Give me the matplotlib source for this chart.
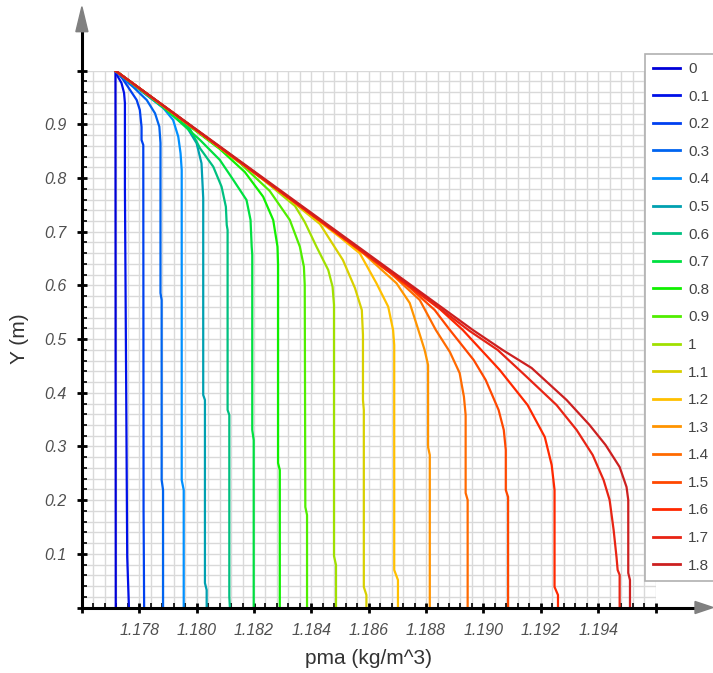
import matplotlib
matplotlib.use("Agg")
import matplotlib.pyplot as plt
from matplotlib.ticker import MultipleLocator, FixedLocator, FixedFormatter
from matplotlib.patches import Polygon

plt.rcParams['font.family'] = ['Liberation Sans', 'DejaVu Sans']

# ---------------- data ----------------
labels = ['0', '0.1', '0.2', '0.3', '0.4', '0.5', '0.6', '0.7', '0.8', '0.9',
          '1', '1.1', '1.2', '1.3', '1.4', '1.5', '1.6', '1.7', '1.8']
colors = ['#0000d8', '#0010e8', '#0040f0', '#0064f0', '#0090ff', '#00a0b0',
          '#00c080', '#00e040', '#10f000', '#50ee00', '#a0e000', '#d8d000',
          '#ffc000', '#ff9400', '#ff6a00', '#ff4800', '#ff2800', '#e82414',
          '#cc2020']

pma_0 = [1.17717, 1.17718]
y_0 = [1.0, 0.0]

pma_01 = [1.17717, 1.17722, 1.17738, 1.17747, 1.17750, 1.17750, 1.17754, 1.17758, 1.17764]
y_01 = [1.0, 0.9920, 0.9771, 0.9585, 0.9398, 0.7834, 0.4424, 0.0941, 0.0]

pma_02 = [1.17717, 1.17740, 1.17768, 1.17791, 1.17802, 1.17808, 1.17808, 1.17814, 1.17815, 1.17817]
y_02 = [1.0, 0.9864, 0.9640, 0.9454, 0.9268, 0.8951, 0.8709, 0.8616, 0.1816, 0.0]

pma_03 = [1.17717, 1.17750, 1.17779, 1.17826, 1.17855, 1.17870, 1.17874, 1.17874, 1.17878, 1.17878, 1.17883, 1.17883]
y_03 = [1.0, 0.9827, 0.9696, 0.9454, 0.9206, 0.8957, 0.8653, 0.5859, 0.5728, 0.2375, 0.2189, 0.0]

pma_04 = [1.17717, 1.17768, 1.17826, 1.17884, 1.17918, 1.17936, 1.17944, 1.17948, 1.17948, 1.17955, 1.17955]
y_04 = [1.0, 0.9789, 0.9547, 0.9305, 0.9082, 0.8771, 0.8461, 0.8150, 0.2375, 0.2189, 0.0]

pma_05 = [1.17717, 1.17802, 1.17895, 1.17965, 1.18000, 1.18017, 1.18023, 1.18023, 1.18029, 1.18029, 1.18035, 1.18035]
y_05 = [1.0, 0.9640, 0.9268, 0.8957, 0.8648, 0.8275, 0.7629, 0.3959, 0.3866, 0.0456, 0.0326, 0.0]

pma_06 = [1.17717, 1.17837, 1.17942, 1.17977, 1.18012, 1.18058, 1.18087, 1.18102, 1.18105, 1.18108, 1.18108, 1.18114, 1.18114, 1.18116]
y_06 = [1.0, 0.9510, 0.9063, 0.8914, 0.8554, 0.8212, 0.7839, 0.7466, 0.7126, 0.7033, 0.3679, 0.3586, 0.0196, 0.0]

pma_07 = [1.17717, 1.17872, 1.18012, 1.18081, 1.18128, 1.18174, 1.18188, 1.18192, 1.18194, 1.18194, 1.18199, 1.18199]
y_07 = [1.0, 0.9380, 0.8709, 0.8337, 0.7964, 0.7591, 0.7219, 0.6721, 0.6567, 0.3307, 0.3120, 0.0]

pma_08 = [1.17717, 1.17942, 1.18081, 1.18168, 1.18232, 1.18267, 1.18282, 1.18284, 1.18284, 1.18290, 1.18290]
y_08 = [1.0, 0.9100, 0.8541, 0.8113, 0.7653, 0.7219, 0.6721, 0.6380, 0.2692, 0.2561, 0.0]

pma_09 = [1.17717, 1.17977, 1.18151, 1.18255, 1.18325, 1.18360, 1.18374, 1.18377, 1.18379, 1.18385, 1.18385]
y_09 = [1.0, 0.8970, 0.8281, 0.7759, 0.7219, 0.6721, 0.6349, 0.6008, 0.1872, 0.1723, 0.0]

pma_10 = [1.17717, 1.18012, 1.18221, 1.18343, 1.18377, 1.18418, 1.18459, 1.18474, 1.18479, 1.18479, 1.18486, 1.18486]
y_10 = [1.0, 0.8839, 0.8020, 0.7480, 0.7181, 0.6721, 0.6287, 0.5976, 0.5635, 0.0959, 0.0792, 0.0]

pma_11 = [1.17717, 1.18081, 1.18290, 1.18430, 1.18510, 1.18552, 1.18576, 1.18580, 1.18580, 1.18583, 1.18583, 1.18592, 1.18592]
y_11 = [1.0, 0.8569, 0.7750, 0.7144, 0.6474, 0.5952, 0.5542, 0.5076, 0.3866, 0.3679, 0.0382, 0.0233, 0.0]

pma_12 = [1.17717, 1.18116, 1.18360, 1.18499, 1.18569, 1.18627, 1.18668, 1.18685, 1.18689, 1.18689, 1.18702, 1.18702]
y_12 = [1.0, 0.8430, 0.7470, 0.6902, 0.6598, 0.6040, 0.5604, 0.5170, 0.4890, 0.0699, 0.0512, 0.0]

pma_13 = [1.17717, 1.18151, 1.18430, 1.18586, 1.18697, 1.18743, 1.18771, 1.18795, 1.18807, 1.18807, 1.18813, 1.18813]
y_13 = [1.0, 0.8299, 0.7209, 0.6576, 0.6040, 0.5673, 0.5207, 0.4797, 0.4518, 0.2990, 0.2841, 0.0]

pma_14 = [1.17717, 1.18186, 1.18499, 1.18674, 1.18778, 1.18834, 1.18883, 1.18917, 1.18932, 1.18938, 1.18938, 1.18945, 1.18945]
y_14 = [1.0, 0.8160, 0.6930, 0.6241, 0.5728, 0.5170, 0.4760, 0.4369, 0.3927, 0.3586, 0.2133, 0.2003, 0.0]

pma_15 = [1.17717, 1.18221, 1.18569, 1.18743, 1.18830, 1.18883, 1.18966, 1.19008, 1.19053, 1.19071, 1.19078, 1.19078, 1.19086, 1.19086]
y_15 = [1.0, 0.8029, 0.6660, 0.5961, 0.5542, 0.5170, 0.4611, 0.4238, 0.3679, 0.3307, 0.2934, 0.2189, 0.2059, 0.0]

pma_16 = [1.17717, 1.18255, 1.18639, 1.18848, 1.18928, 1.19057, 1.19154, 1.19214, 1.19238, 1.19248, 1.19248, 1.19260, 1.19260]
y_16 = [1.0, 0.7889, 0.6390, 0.5561, 0.5170, 0.4424, 0.3772, 0.3176, 0.2655, 0.2189, 0.0382, 0.0233, 0.0]

pma_17 = [1.17717, 1.18360, 1.18778, 1.18952, 1.19050, 1.19144, 1.19255, 1.19325, 1.19381, 1.19419, 1.19440, 1.19454, 1.19464, 1.19468, 1.19475, 1.19475]
y_17 = [1.0, 0.7489, 0.5859, 0.5151, 0.4797, 0.4331, 0.3772, 0.3307, 0.2841, 0.2375, 0.2003, 0.1444, 0.0941, 0.0699, 0.0605, 0.0]

pma_18 = [1.17717, 1.18360, 1.18963, 1.19067, 1.19168, 1.19290, 1.19370, 1.19426, 1.19475, 1.19499, 1.19505, 1.19505, 1.19511, 1.19511]
y_18 = [1.0, 0.7507, 0.5170, 0.4797, 0.4462, 0.3866, 0.3400, 0.3027, 0.2617, 0.2245, 0.2003, 0.0643, 0.0512, 0.0]

pma_series = [pma_0, pma_01, pma_02, pma_03, pma_04, pma_05, pma_06, pma_07, pma_08,
              pma_09, pma_10, pma_11, pma_12, pma_13, pma_14, pma_15, pma_16, pma_17, pma_18]
y_series = [y_0, y_01, y_02, y_03, y_04, y_05, y_06, y_07, y_08,
            y_09, y_10, y_11, y_12, y_13, y_14, y_15, y_16, y_17, y_18]

x_major = [1.176, 1.178, 1.180, 1.182, 1.184, 1.186, 1.188, 1.190, 1.192, 1.194, 1.196]
x_major_labels = ['', '1.178', '1.180', '1.182', '1.184', '1.186', '1.188', '1.190', '1.192', '1.194', '']
y_major = [0.0, 0.1, 0.2, 0.3, 0.4, 0.5, 0.6, 0.7, 0.8, 0.9, 1.0]
y_major_labels = ['', '0.1', '0.2', '0.3', '0.4', '0.5', '0.6', '0.7', '0.8', '0.9', '']

# ---------------- figure ----------------
W, H = 713, 673
fig = plt.figure(figsize=(W / 100, H / 100), dpi=100)
ax = fig.add_axes([81.9 / W, (H - 607.5) / H, (655.5 - 81.9) / W, (607.5 - 70.7) / H])

for xs, ys, c, lab in zip(pma_series, y_series, colors, labels):
    ax.plot(xs, ys, color=c, lw=1.6, label=lab, solid_joinstyle='round')

ax.set_xlim(1.176, 1.196)
ax.set_ylim(0.0, 1.0)

ax.xaxis.set_major_locator(FixedLocator(x_major))
ax.xaxis.set_major_formatter(FixedFormatter(x_major_labels))
ax.xaxis.set_minor_locator(MultipleLocator(0.0004))
ax.yaxis.set_major_locator(FixedLocator(y_major))
ax.yaxis.set_major_formatter(FixedFormatter(y_major_labels))
ax.yaxis.set_minor_locator(MultipleLocator(0.02))

ax.set_axisbelow(True)
ax.grid(which='both', color='#d9d9d9', lw=1.0)

for s in ['top', 'right']:
    ax.spines[s].set_visible(False)
for s in ['left', 'bottom']:
    ax.spines[s].set_linewidth(2.2)
    ax.spines[s].set_color('black')
    ax.spines[s].set_zorder(5)

ax.tick_params(which='major', direction='inout', length=6.5, width=2.0, color='black',
               labelsize=11.5, labelcolor='#505050', pad=8)
ax.tick_params(which='minor', direction='in', length=3.6, width=1.2, color='black')
for t in ax.get_xticklabels() + ax.get_yticklabels():
    t.set_fontstyle('italic')

# axis extensions with arrow heads
ax.plot([0, 0], [1.0, 1.0727], transform=ax.transAxes, clip_on=False, color='black', lw=2.2, zorder=6)
ax.plot([1.0, 1.0689], [0, 0], transform=ax.transAxes, clip_on=False, color='black', lw=2.2, zorder=6)
ax.add_patch(Polygon([[-0.0105, 1.0727], [0.0105, 1.0727], [0.0, 1.1192]], closed=True,
                     transform=ax.transAxes, clip_on=False, color='#808080', zorder=7))
ax.add_patch(Polygon([[1.0689, -0.0112], [1.0689, 0.0112], [1.1003, 0.0]], closed=True,
                     transform=ax.transAxes, clip_on=False, color='#808080', zorder=7))

ax.set_xlabel('pma (kg/m^3)', fontsize=15, color='#333333', labelpad=8)
ax.set_ylabel('Y (m)', fontsize=15, color='#333333')
ax.yaxis.set_label_coords(-0.092, 0.5)

leg = ax.legend(loc='upper left', bbox_to_anchor=(645 / W, (H - 54) / H),
                bbox_transform=fig.transFigure, borderaxespad=0, fontsize=11,
                handlelength=1.75, handletextpad=0.55, labelspacing=0.89,
                borderpad=0.52, fancybox=False, framealpha=1.0, edgecolor='#b0b0b0')
leg.get_frame().set_linewidth(1.2)
for t in leg.get_texts():
    t.set_color('#444444')
for l in leg.get_lines():
    l.set_linewidth(2.0)

fig.savefig('out.png', dpi=100)
